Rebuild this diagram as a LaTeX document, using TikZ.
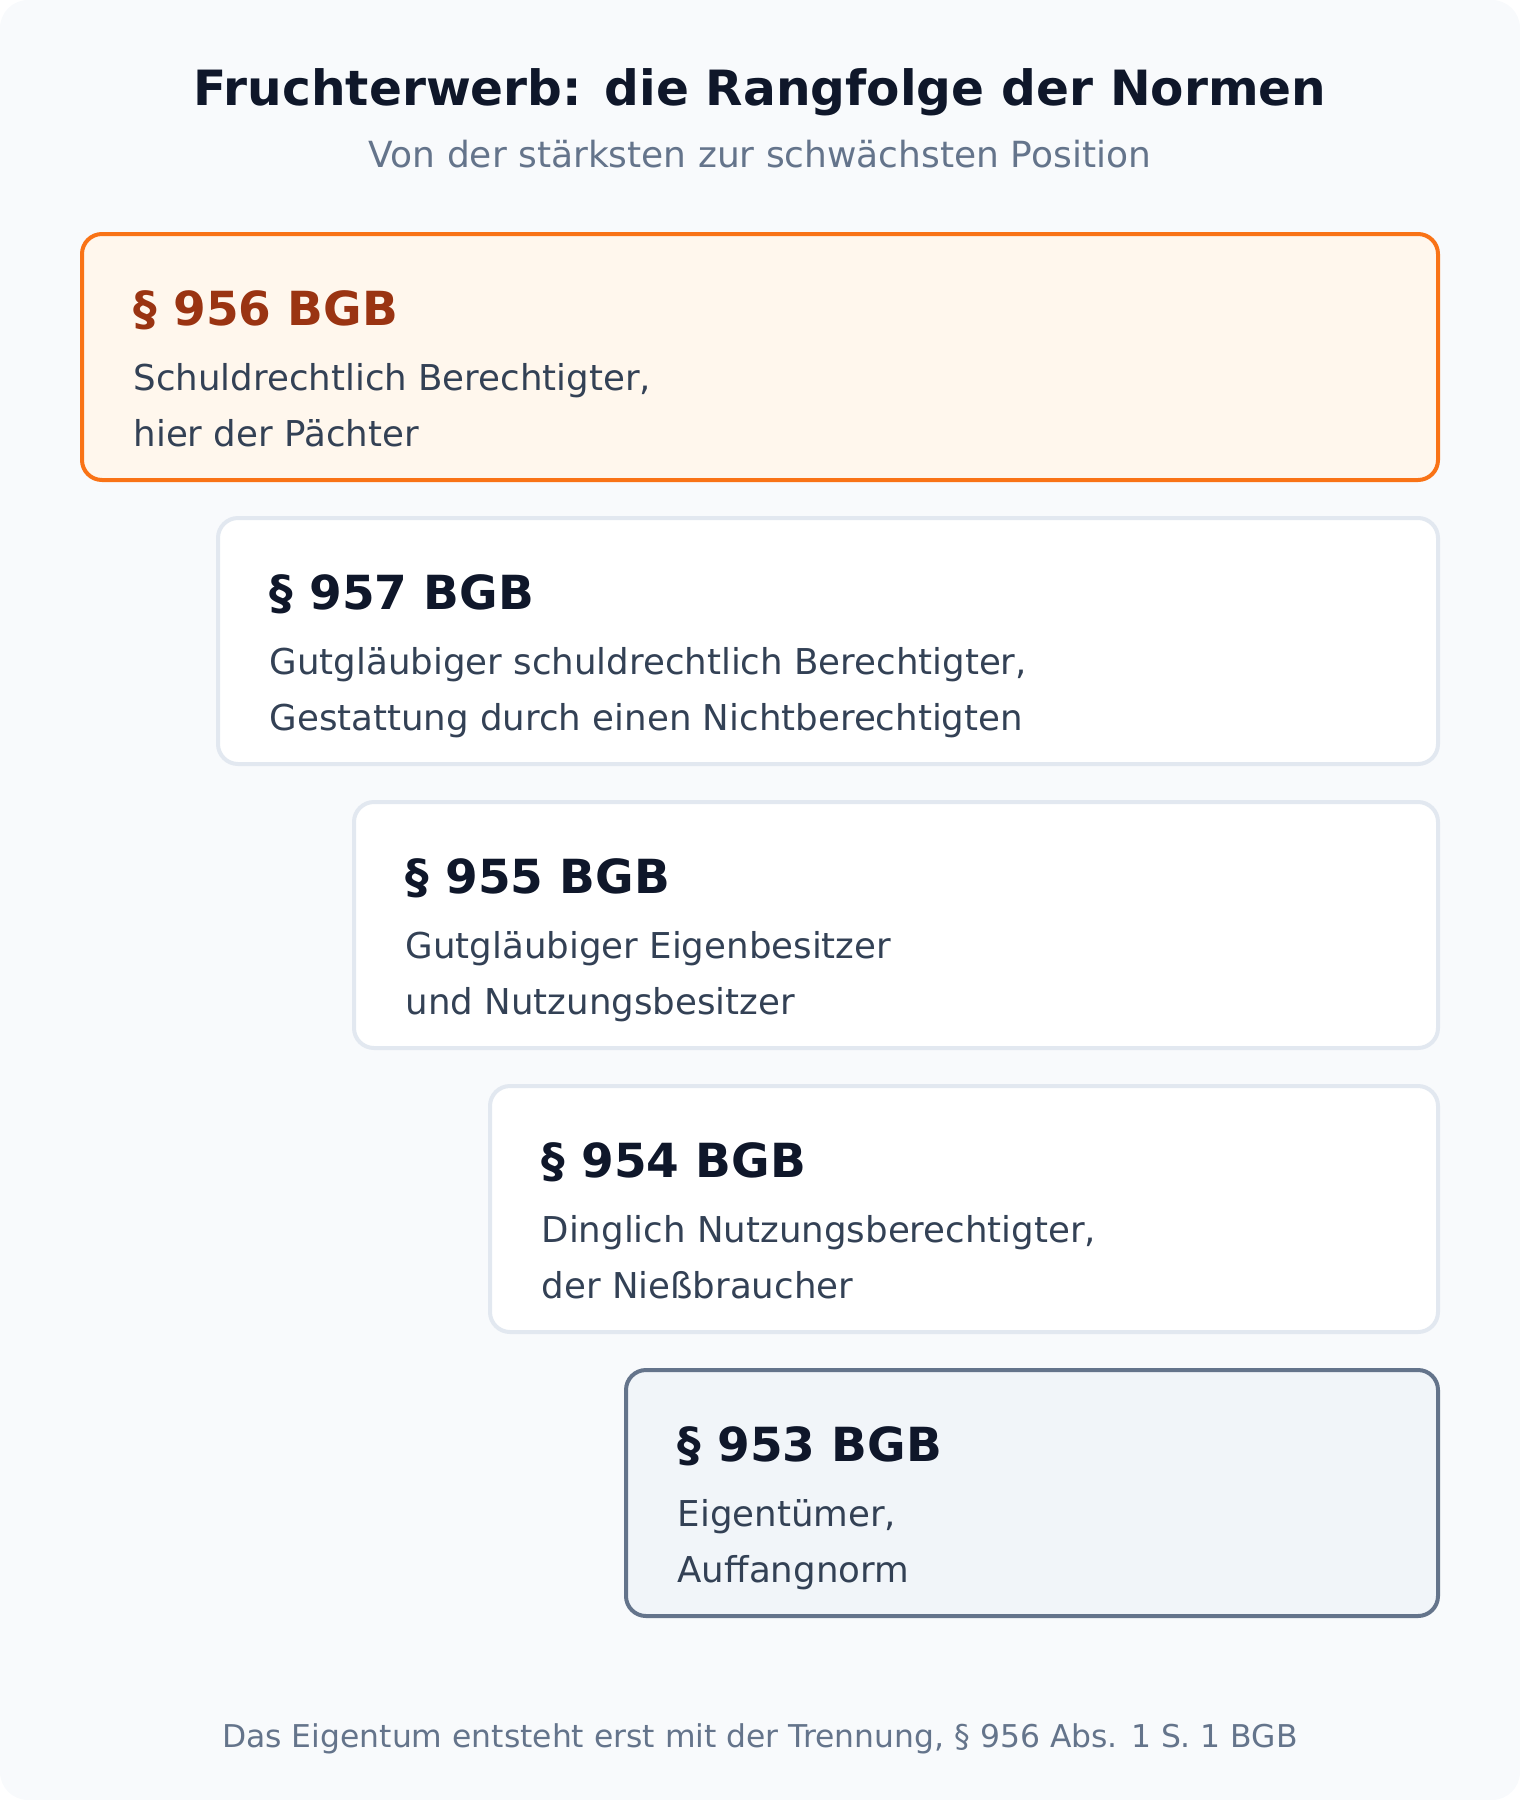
\documentclass[tikz,border=0pt]{standalone}
\usepackage{fontspec}
\setmainfont{DejaVu Sans}
\usetikzlibrary{positioning}
\definecolor{pagebg}{HTML}{F8FAFC}
\definecolor{ink}{HTML}{0F172A}
\definecolor{bodyink}{HTML}{334155}
\definecolor{muted}{HTML}{64748B}
\definecolor{linegray}{HTML}{E2E8F0}
\definecolor{orangeline}{HTML}{F97316}
\definecolor{orangefill}{HTML}{FFF7ED}
\definecolor{orangeink}{HTML}{9A3412}
\definecolor{basefill}{HTML}{F1F5F9}
\tikzset{
  normbox/.style={draw=linegray, fill=white, line width=2pt, rounded corners=10pt,
    minimum width=#1, minimum height=123pt, anchor=north east, inner sep=0pt},
  normtitle/.style={anchor=base west, inner sep=0pt, text=ink,
    font=\fontsize{23.5}{28}\selectfont\bfseries},
  normtext/.style={anchor=base west, inner sep=0pt, text=bodyink, align=left,
    font=\fontsize{17.8}{28}\selectfont},
}
\begin{document}
\begin{tikzpicture}[x=1pt,y=-1pt]
\useasboundingbox (0,0) rectangle (760,900);
\fill[pagebg, rounded corners=14pt] (0,0) rectangle (760,900);

\node[font=\fontsize{24.3}{30}\selectfont\bfseries, text=ink, anchor=base] (title) at (380,52.8) {Fruchterwerb: die Rangfolge der Normen};
\node[font=\fontsize{18}{22}\selectfont, text=muted, anchor=base] (subtitle) at (380,83.8) {Von der stärksten zur schwächsten Position};

% stufe 1
\node[normbox=678pt, draw=orangeline, fill=orangefill] (n956) at (720,116) {};
\node[normtitle, text=orangeink] (t956) at (66.6,162.5) {§ 956 BGB};
\node[normtext] (d956) at (66.6,223.3) {Schuldrechtlich Berechtigter,\\hier der Pächter};

% stufe 2
\node[normbox=610pt] (n957) at (720,258) {};
\node[normtitle] (t957) at (134.6,304.5) {§ 957 BGB};
\node[normtext] (d957) at (134.6,365.3) {Gutgläubiger schuldrechtlich Berechtigter,\\Gestattung durch einen Nichtberechtigten};

% stufe 3
\node[normbox=542pt] (n955) at (720,400) {};
\node[normtitle] (t955) at (202.6,446.5) {§ 955 BGB};
\node[normtext] (d955) at (202.6,507.3) {Gutgläubiger Eigenbesitzer\\und Nutzungsbesitzer};

% stufe 4
\node[normbox=474pt] (n954) at (720,542) {};
\node[normtitle] (t954) at (270.6,588.5) {§ 954 BGB};
\node[normtext] (d954) at (270.6,649.3) {Dinglich Nutzungsberechtigter,\\der Nießbraucher};

% stufe 5 (auffangnorm)
\node[normbox=406pt, draw=muted, fill=basefill] (n953) at (720,684) {};
\node[normtitle] (t953) at (338.6,730.5) {§ 953 BGB};
\node[normtext] (d953) at (338.6,791.3) {Eigentümer,\\Auffangnorm};

\node[font=\fontsize{15.7}{18}\selectfont, text=muted, anchor=base] (footer) at (380,873.6) {Das Eigentum entsteht erst mit der Trennung, § 956 Abs. 1 S. 1 BGB};
\end{tikzpicture}
\end{document}
